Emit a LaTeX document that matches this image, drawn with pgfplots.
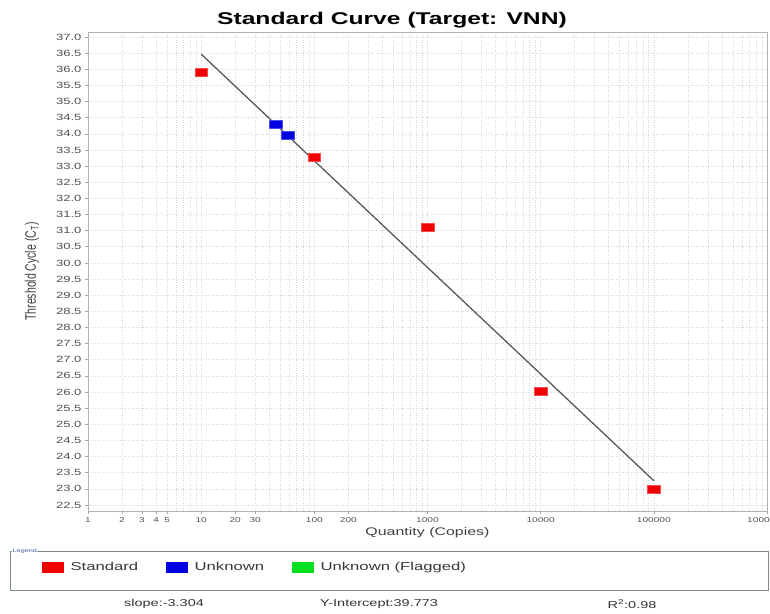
\documentclass[border=0pt]{standalone}
\usepackage{pgfplots}
\pgfplotsset{compat=1.18}
\usepackage{fontspec}
\setmainfont{Liberation Sans}[FakeStretch=1.45]
\newfontfamily\plainfont{Liberation Sans}
\definecolor{tickgray}{HTML}{505050}
\definecolor{gridgray}{HTML}{D8D8D8}
\definecolor{framegray}{HTML}{7F8C92}
\definecolor{stdred}{HTML}{F00000}
\definecolor{unkblue}{HTML}{0000E0}
\definecolor{flaggreen}{HTML}{00E020}
\definecolor{legblue}{HTML}{3B5FA0}
\begin{document}
\begin{tikzpicture}
\path[use as bounding box] (-88pt,-102pt) rectangle (682pt,511pt);
\begin{axis}[
  at={(0pt,0pt)}, anchor=south west,
  scale only axis, width=679pt, height=479pt,
  xmode=log, xmin=1, xmax=1000000,
  ymin=22.314, ymax=37.155,
  log basis x=10,
  xtick={1,2,3,4,5,10,20,30,100,200,1000,10000,100000,1000000},
  xticklabels={1,2,3,4,5,10,20,30,100,200,1000,10000,100000,1000000},
  minor xtick={6,7,8,9,40,50,60,70,80,90,300,400,500,600,700,800,900,
    2000,3000,4000,5000,6000,7000,8000,9000,
    20000,30000,40000,50000,60000,70000,80000,90000,
    200000,300000,400000,500000,600000,700000,800000,900000},
  ytick={22.5,23,23.5,24,24.5,25,25.5,26,26.5,27,27.5,28,28.5,29,29.5,30,30.5,31,31.5,32,32.5,33,33.5,34,34.5,35,35.5,36,36.5,37},
  /pgf/number format/assume math mode=true,
  yticklabel={\pgfmathprintnumber[fixed,fixed zerofill,precision=1]{\tick}},
  grid=both,
  major grid style={draw=gridgray, dash pattern=on 1pt off 1.5pt, line width=0.6pt},
  minor grid style={draw=gridgray, dash pattern=on 1pt off 1.5pt, line width=0.6pt},
  axis line style={draw=gray!60, line width=0.8pt},
  tick align=outside, major tick length=3pt, minor tick length=0pt,
  tick style={draw=gray!70, line width=0.6pt},
  xtick pos=bottom, ytick pos=left,
  x tick label style={font=\fontsize{7}{8}\selectfont, text=tickgray, yshift=0pt},
  y tick label style={font=\fontsize{9}{10}\selectfont, text=tickgray},
  title={Standard Curve (Target: VNN)},
  title style={font=\fontsize{17}{19}\selectfont\bfseries, at={(axis description cs:0.4477,1)}, anchor=center, yshift=6pt},
  xlabel={Quantity (Copies)},
  xlabel style={font=\fontsize{11}{12}\selectfont, text=tickgray!80!black, at={(axis description cs:0.5,0)}, anchor=center, yshift=-22pt},
  ylabel={\scalebox{1}[1.45]{\plainfont\fontsize{10.5}{12}\selectfont Threshold Cycle (C\textsubscript{T})}},
  ylabel style={at={(axis description cs:-0.0825,0.5)}, anchor=center, rotate=0, text=tickgray!80!black},
  legend columns=3,
  legend style={at={(axis description cs:-0.0722,-0.1169)}, anchor=west, draw=none, fill=none,
    font=\fontsize{11.5}{13}\selectfont, text=tickgray!70!black,
    nodes={inner sep=0pt},
    /tikz/every odd column/.append style={column sep=7pt},
    /tikz/every even column/.append style={column sep=28pt}},
  legend cell align=left,
  clip=false,
]
% regression line: Ct = -3.304 log10(q) + 39.773
\addplot[color=black!65, line width=1.3pt, forget plot] coordinates {(10,36.469) (100000,23.253)};
\addplot[only marks, mark=square*, mark size=4pt, mark options={xscale=1.6, fill=stdred, draw=stdred!70!white, line width=0.5pt},
  legend image code/.code={\fill[stdred] (0pt,-5pt) rectangle (21pt,5pt);}]
  coordinates {(10,35.9) (100,33.28) (1000,31.12) (10000,26.02) (100000,22.98)};
\addlegendentry{Standard}
\addplot[only marks, mark=square*, mark size=4pt, mark options={xscale=1.6, fill=unkblue, draw=unkblue!70!white, line width=0.5pt},
  legend image code/.code={\fill[unkblue] (0pt,-5pt) rectangle (21pt,5pt);}]
  coordinates {(45.3,34.3) (57.9,33.95)};
\addlegendentry{Unknown}
\addlegendimage{legend image code/.code={\fill[flaggreen] (0pt,-5pt) rectangle (21pt,5pt);}}
\addlegendentry{Unknown (Flagged)}
\end{axis}
% legend frame
\draw[framegray, line width=0.9pt] (-78pt,-40pt) rectangle (680pt,-79pt);
\node[fill=white, inner sep=0.5pt, anchor=west, text=legblue, font=\fontsize{5}{6}\selectfont] at (-76pt,-40pt) {Legend};
% fit statistics
\node[font=\fontsize{10}{12}\selectfont, text=black!80] at (76pt,-93pt) {slope:-3.304};
\node[font=\fontsize{10}{12}\selectfont, text=black!80] at (291pt,-93pt) {Y-Intercept:39.773};
\node[font=\fontsize{10}{12}\selectfont, text=black!80] at (544pt,-93pt) {R\textsuperscript{2}:0.98};
\end{tikzpicture}
\end{document}
